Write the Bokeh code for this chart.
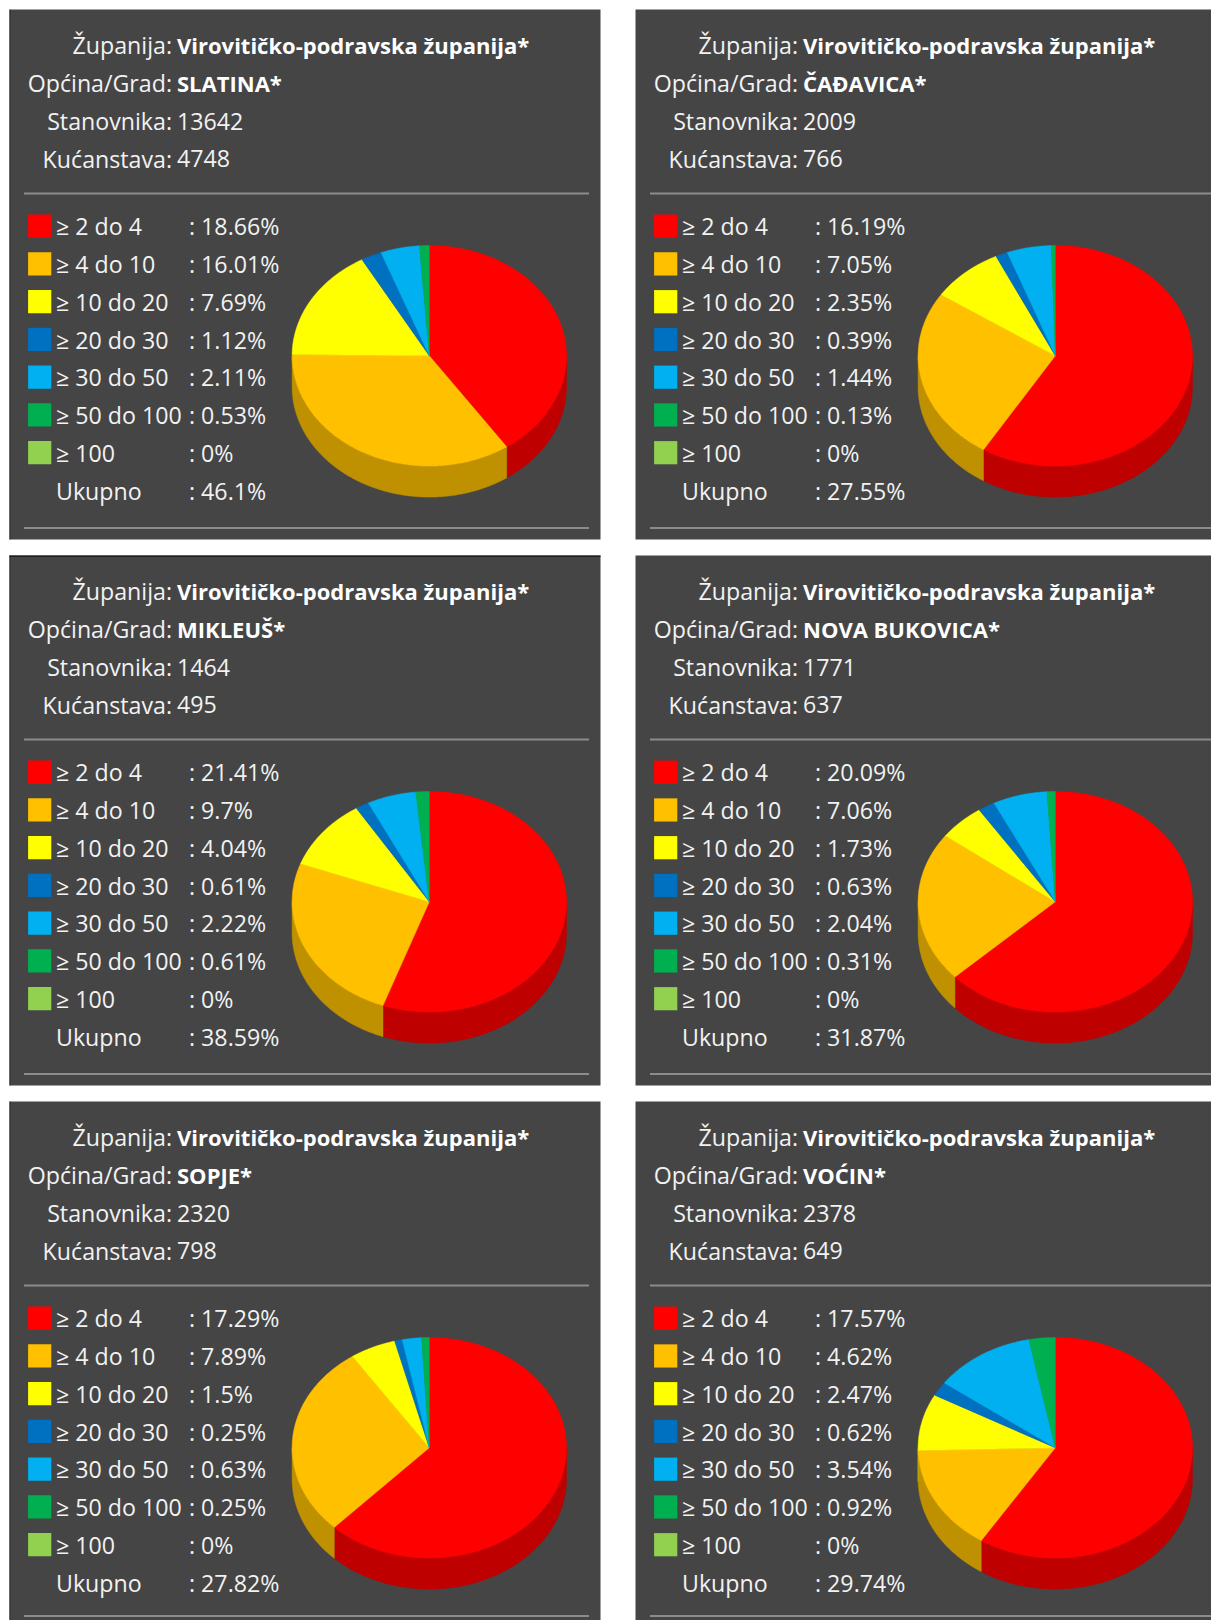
import math
from bokeh.plotting import figure
from bokeh.models import Range1d
from bokeh.embed import file_html
from bokeh.resources import INLINE
from bokeh.core.properties import value

# ---------------- data ----------------
county = "Virovitičko-podravska županija*"
municipalities = ["SLATINA*", "ČAĐAVICA*", "MIKLEUŠ*", "NOVA BUKOVICA*", "SOPJE*", "VOĆIN*"]
population = [13642, 2009, 1464, 1771, 2320, 2378]
households = [4748, 766, 495, 637, 798, 649]
categories = ["≥ 2 do 4", "≥ 4 do 10", "≥ 10 do 20", "≥ 20 do 30", "≥ 30 do 50", "≥ 50 do 100", "≥ 100"]
slatina = [18.66, 16.01, 7.69, 1.12, 2.11, 0.53, 0]
cadavica = [16.19, 7.05, 2.35, 0.39, 1.44, 0.13, 0]
mikleus = [21.41, 9.7, 4.04, 0.61, 2.22, 0.61, 0]
nova_bukovica = [20.09, 7.06, 1.73, 0.63, 2.04, 0.31, 0]
sopje = [17.29, 7.89, 1.5, 0.25, 0.63, 0.25, 0]
vocin = [17.57, 4.62, 2.47, 0.62, 3.54, 0.92, 0]
totals = [46.1, 27.55, 38.59, 31.87, 27.82, 29.74]
series = [slatina, cadavica, mikleus, nova_bukovica, sopje, vocin]

colors = ["#FF0000", "#FFC000", "#FFFF00", "#0070C0", "#00B0F0", "#00B050", "#92D050"]
side_colors = ["#BF0000", "#BF9000", "#BFBF00", "#005490", "#0084B4", "#008440", "#6E9C3C"]

# ---------------- figure ----------------
W, H = 1211, 1620
p = figure(width=W, height=H, output_backend="svg", toolbar_location=None,
           x_range=Range1d(0, W), y_range=Range1d(H, 0),
           x_axis_location=None, y_axis_location=None, min_border=0)
p.grid.visible = False
p.outline_line_color = None
p.background_fill_color = "white"
p.border_fill_color = "white"

BG = "#454545"
TXT = "#f2f2f2"
SEP = "#8c8c8c"
FONT = value("Open Sans")
FS = "23.2px"
FSB = "22px"

panel_x = [9, 635]
panel_y = [9, 555, 1101]
panel_h = 530
bottom_sep = [527.5, 527.5, 523.5]

def fmt(v):
    return f"{v:g}%"

for i in range(6):
    col, row = i % 2, i // 2
    ox = panel_x[col] - 9
    oy = panel_y[row] - 9
    left = panel_x[col]
    right = 600 if col == 0 else 1215
    top = panel_y[row]
    bottom = top + panel_h
    p.quad(left=[left], right=[right], top=[top], bottom=[bottom],
           fill_color=BG, line_color=None)
    if col == 0:
        p.segment(x0=[left + 0.5], y0=[top], x1=[left + 0.5], y1=[bottom],
                  line_color="#2c2c2c", line_width=1)
    if i == 2:
        p.segment(x0=[left], y0=[top + 0.75], x1=[right], y1=[top + 0.75],
                  line_color="#1e1e1e", line_width=1.5)

    # header
    labels = ["Županija:", "Općina/Grad:", "Stanovnika:", "Kućanstava:"]
    vals = [county, municipalities[i], str(population[i]), str(households[i])]
    yc = [44.6, 82.6, 120.6, 158.2]
    p.text(x=[171.5 + ox] * 4, y=[b + oy for b in yc], text=labels,
           text_font=FONT, text_font_size=FS, text_color=TXT,
           text_align="right", text_baseline="middle")
    p.text(x=[176.5 + ox] * 2, y=[b + oy for b in yc[:2]], text=vals[:2],
           text_font=FONT, text_font_size=FSB, text_color="#ffffff",
           text_font_style="bold", text_align="left", text_baseline="middle")
    p.text(x=[176.5 + ox] * 2, y=[b + oy for b in yc[2:]], text=vals[2:],
           text_font=FONT, text_font_size=FS, text_color=TXT,
           text_align="left", text_baseline="middle")

    # separators
    p.segment(x0=[23.5 + ox, 23.5 + ox], y0=[193 + oy, bottom_sep[row] + oy],
              x1=[588.5 + ox, 588.5 + ox], y1=[193 + oy, bottom_sep[row] + oy],
              line_color=SEP, line_width=2)

    # legend
    pitch = 37.75
    sw_c = [225.7 + k * pitch + oy for k in range(7)]
    p.quad(left=[27.6 + ox] * 7, right=[50.8 + ox] * 7,
           top=[c - 11.6 for c in sw_c], bottom=[c + 11.6 for c in sw_c],
           fill_color=colors, line_color=None)
    lc = [225.8 + k * pitch + oy for k in range(8)]
    p.text(x=[55.5 + ox] * 8, y=lc, text=categories + ["Ukupno"],
           text_font=FONT, text_font_size=FS, text_color=TXT,
           text_align="left", text_baseline="middle")
    p.text(x=[188.5 + ox] * 8, y=lc,
           text=[": " + fmt(v) for v in series[i]] + [": " + fmt(totals[i])],
           text_font=FONT, text_font_size=FS, text_color=TXT,
           text_align="left", text_baseline="middle")

    # 3D pie
    cx, cy, rx, ry, depth = 428.8 + ox, 355.3 + oy, 137.2, 110.3, 31.0
    vs = series[i]
    tot = sum(vs)
    ang = [0.0]
    for v in vs:
        ang.append(ang[-1] + 360.0 * v / tot)

    def pt(t, dy=0.0):
        r = math.radians(t)
        return cx + rx * math.sin(r), cy - ry * math.cos(r) + dy

    side_xs, side_ys, side_c = [], [], []
    top_xs, top_ys, top_c = [], [], []
    for k in range(len(vs)):
        a0, a1 = ang[k], ang[k + 1]
        if a1 - a0 <= 0:
            continue
        n = max(2, int((a1 - a0) / 0.5) + 1)
        ts = [a0 + (a1 - a0) * j / (n - 1) for j in range(n)]
        xs = [cx] + [pt(t)[0] for t in ts]
        ys = [cy] + [pt(t)[1] for t in ts]
        top_xs.append(xs); top_ys.append(ys); top_c.append(colors[k])
        lo, hi = max(a0, 90.0), min(a1, 270.0)
        if hi > lo:
            m = max(2, int((hi - lo) / 0.5) + 1)
            ss = [lo + (hi - lo) * j / (m - 1) for j in range(m)]
            up = [pt(t) for t in ss]
            dn = [pt(t, depth) for t in reversed(ss)]
            side_xs.append([q[0] for q in up + dn])
            side_ys.append([q[1] for q in up + dn])
            side_c.append(side_colors[k])
    p.patches(xs=side_xs, ys=side_ys, fill_color=side_c, line_color=side_c, line_width=0.5)
    p.patches(xs=top_xs, ys=top_ys, fill_color=top_c, line_color=top_c, line_width=0.5)

open("out.html", "w").write(file_html(p, INLINE))
